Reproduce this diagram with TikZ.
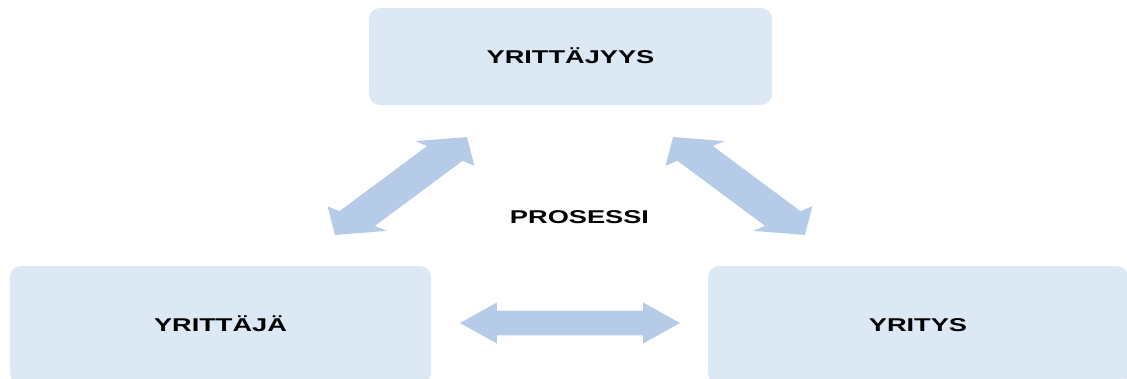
\documentclass[tikz,border=0pt]{standalone}
\usepackage{fontspec}
\setmainfont{Liberation Sans}
\usetikzlibrary{calc}

\definecolor{boxfill}{HTML}{DDE8F5}
\definecolor{arrowfill}{HTML}{B6CBE8}

% double-headed block arrow between two named points; the shape is laid out
% in a frame compressed by \arrowstretch and then widened back horizontally
\def\arrowstretch{1.8}
\def\headlen{20.5}
\def\headhalf{20.5}
\def\shafthalf{12.3}
\newcommand\blockarrow[2]{%
  \pgfpointanchor{#1}{center}\pgfgetlastxy{\ax}{\ay}%
  \pgfpointanchor{#2}{center}\pgfgetlastxy{\bx}{\by}%
  \pgfmathsetmacro\adx{(\bx-\ax)/\arrowstretch}%
  \pgfmathsetmacro\ady{\by-\ay}%
  \pgfmathsetmacro\aang{atan2(\ady,\adx)}%
  \pgfmathsetmacro\alen{veclen(\adx,\ady)}%
  \pgfmathsetmacro\aback{\alen-\headlen}%
  \begin{scope}[shift={(#1)}, xscale=\arrowstretch, rotate=\aang, x=1pt, y=1pt]
    \fill[arrowfill] (0,0) -- (\headlen,\headhalf) -- (\headlen,\shafthalf)
      -- (\aback,\shafthalf) -- (\aback,\headhalf) -- (\alen,0)
      -- (\aback,-\headhalf) -- (\aback,-\shafthalf) -- (\headlen,-\shafthalf)
      -- (\headlen,-\headhalf) -- cycle;
  \end{scope}}

\newcommand\widetext[1]{\scalebox{1.47}[1]{#1}}

\tikzset{
  conceptbox/.style={rectangle, rounded corners=11pt, fill=boxfill, draw=none,
    inner sep=0pt, text height=13.2pt, text depth=0pt,
    font=\bfseries\fontsize{18.5}{20}\selectfont, text=black},
  label/.style={inner sep=0pt, text height=13.2pt, text depth=0pt,
    font=\bfseries\fontsize{18.5}{20}\selectfont, text=black}
}

\begin{document}
\begin{tikzpicture}[x=1pt, y=-1pt]
  \useasboundingbox (0,0) rectangle (1127,378);
  \clip (0,0) rectangle (1127,378);

  % the three concepts
  \node[conceptbox, minimum width=403pt, minimum height=97pt]
    (yrittajyys) at (570.5,56.5) {\widetext{YRITTÄJYYS}};
  \node[conceptbox, minimum width=421pt, minimum height=118pt]
    (yrittaja) at (220.5,325) {\widetext{YRITTÄJÄ}};
  \node[conceptbox, minimum width=420pt, minimum height=118pt]
    (yritys) at (918,325) {\widetext{YRITYS}};

  \node[label] (prosessi) at (579.5,216.7) {\widetext{PROSESSI}};

  % arrow end points
  \coordinate (leftlow)  at (335,235);
  \coordinate (lefthigh) at (467,137);
  \coordinate (righthigh) at (673,137);
  \coordinate (rightlow)  at (805,235);
  \coordinate (midleft)  at (460,323);
  \coordinate (midright) at (680,323);

  \blockarrow{leftlow}{lefthigh}
  \blockarrow{righthigh}{rightlow}
  \blockarrow{midleft}{midright}
\end{tikzpicture}
\end{document}
